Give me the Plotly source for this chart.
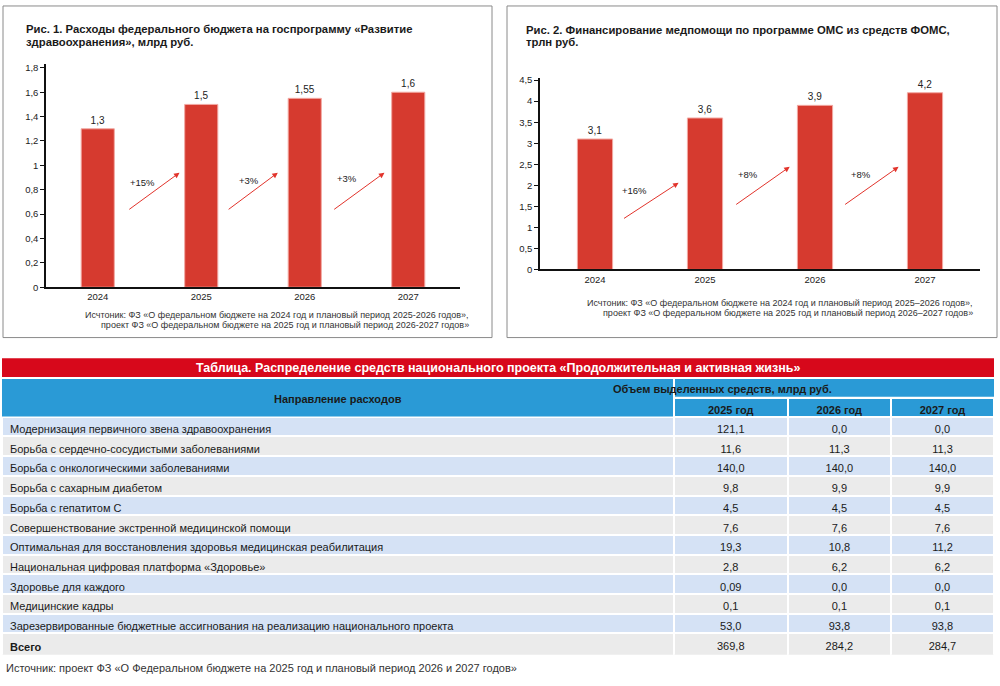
import plotly.graph_objects as go

W, H = 1000, 686
FONT = "Liberation Sans, Arial, sans-serif"
TXT = "#222222"
RED_BAR = "#d63a2f"
ARROW = "#e2332b"

# ---------------- data ----------------
years = ["2024", "2025", "2026", "2027"]
fed_budget = [1.3, 1.5, 1.55, 1.6]          # млрд руб.
oms_funding = [3.1, 3.6, 3.9, 4.2]          # трлн руб.
growth_fed = ["+15%", "+3%", "+3%"]
growth_oms = ["+16%", "+8%", "+8%"]

y1_ticks = [0, 0.2, 0.4, 0.6, 0.8, 1, 1.2, 1.4, 1.6, 1.8]
y1_ticktext = ["0", "0,2", "0,4", "0,6", "0,8", "1", "1,2", "1,4", "1,6", "1,8"]
y2_ticks = [0, 0.5, 1, 1.5, 2, 2.5, 3, 3.5, 4, 4.5]
y2_ticktext = ["0", "0,5", "1", "1,5", "2", "2,5", "3", "3,5", "4", "4,5"]

directions = [
    "Модернизация первичного звена здравоохранения",
    "Борьба с сердечно-сосудистыми заболеваниями",
    "Борьба с онкологическими заболеваниями",
    "Борьба с сахарным диабетом",
    "Борьба с гепатитом С",
    "Совершенствование экстренной медицинской помощи",
    "Оптимальная для восстановления здоровья медицинская реабилитация",
    "Национальная цифровая платформа «Здоровье»",
    "Здоровье для каждого",
    "Медицинские кадры",
    "Зарезервированные бюджетные ассигнования на реализацию национального проекта",
    "Всего",
]
v2025 = [121.1, 11.6, 140.0, 9.8, 4.5, 7.6, 19.3, 2.8, 0.09, 0.1, 53.0, 369.8]
v2026 = [0.0, 11.3, 140.0, 9.9, 4.5, 7.6, 10.8, 6.2, 0.0, 0.1, 93.8, 284.2]
v2027 = [0.0, 11.3, 140.0, 9.9, 4.5, 7.6, 11.2, 6.2, 0.0, 0.1, 93.8, 284.7]
year_headers = ["2025 год", "2026 год", "2027 год"]


def ru(v, auto=False):
    if auto:
        s = ("%.2f" % v) if round(v, 1) != round(v, 2) else ("%.1f" % v)
    else:
        s = ("%g" % v)
    return s.replace(".", ",")


def px(x):
    return x / W


def py(y):
    return 1 - y / H


fig = go.Figure()

# ---------------- chart 1 ----------------
fig.add_trace(go.Bar(
    x=years, y=fed_budget, xaxis="x", yaxis="y",
    marker=dict(color=RED_BAR, line=dict(color="#f2a9a3", width=1)),
    width=0.32, text=[ru(v) for v in fed_budget], textposition="outside",
    textfont=dict(size=10, color=TXT, family=FONT), cliponaxis=False,
    hoverinfo="skip", showlegend=False,
))
# ---------------- chart 2 ----------------
fig.add_trace(go.Bar(
    x=years, y=oms_funding, xaxis="x2", yaxis="y2",
    marker=dict(color=RED_BAR, line=dict(color="#f2a9a3", width=1)),
    width=0.32, text=[ru(v) for v in oms_funding], textposition="outside",
    textfont=dict(size=10, color=TXT, family=FONT), cliponaxis=False,
    hoverinfo="skip", showlegend=False,
))

# ---------------- table ----------------
n = len(directions)
row_fill = ["#d5e2f5" if i % 2 == 0 else "#ebebeb" for i in range(n)]
dir_text = [("<b>%s</b>" % d) if d == "Всего" else d for d in directions]
fig.add_trace(go.Table(
    domain=dict(x=[px(2), px(994)], y=[py(660), py(399)]),
    columnwidth=[671, 114, 103, 103],
    header=dict(
        values=[""] + year_headers,
        fill_color="#2a9ad6", line=dict(color="white", width=2),
        align="center", height=19,
        font=dict(size=11, color="#1a1a1a", family=FONT, weight="bold"),
    ),
    cells=dict(
        values=[dir_text,
                [ru(v, True) for v in v2025],
                [ru(v, True) for v in v2026],
                [ru(v, True) for v in v2027]],
        fill_color=[row_fill] * 4, line=dict(color="white", width=2),
        align=["left", "center", "center", "center"], height=19.7,
        font=dict(size=11, color="#1a1a1a", family=FONT),
    ),
))

axis_common = dict(showgrid=False, zeroline=False, showline=True, linecolor="#111111",
                   tickfont=dict(size=9.5, color=TXT, family=FONT))

layout = dict(
    width=W, height=H, margin=dict(l=0, r=0, t=0, b=0),
    paper_bgcolor="white", plot_bgcolor="white",
    font=dict(family=FONT, color=TXT),
    separators=", ",
    xaxis=dict(domain=[px(46), px(460)], anchor="y", type="category",
               ticks="", linewidth=1.5, **axis_common),
    yaxis=dict(domain=[py(287), py(61)], anchor="x", range=[0, 1.83],
               tickvals=y1_ticks, ticktext=y1_ticktext, ticks="outside", ticklen=4,
               tickcolor="#111111", linewidth=1.5, **axis_common),
    xaxis2=dict(domain=[px(540), px(980)], anchor="y2", type="category",
                ticks="", linewidth=1.5, **axis_common),
    yaxis2=dict(domain=[py(269), py(75)], anchor="x2", range=[0, 4.55],
                tickvals=y2_ticks, ticktext=y2_ticktext, ticks="outside", ticklen=4,
                tickcolor="#111111", linewidth=1.5, **axis_common),
)
fig.update_layout(**layout)

shapes = [
    dict(type="rect", xref="paper", yref="paper", x0=px(3), x1=px(492), y0=py(338), y1=py(2),
         line=dict(color="#8a8a8a", width=1), layer="below"),
    dict(type="rect", xref="paper", yref="paper", x0=px(507), x1=px(997), y0=py(338), y1=py(2),
         line=dict(color="#8a8a8a", width=1), layer="below"),
    # table title bar and merged header cells
    dict(type="rect", xref="paper", yref="paper", x0=px(2), x1=px(994), y0=py(378), y1=py(359),
         fillcolor="#d7081b", line=dict(width=0), layer="above"),
    dict(type="rect", xref="paper", yref="paper", x0=px(2), x1=px(673), y0=py(418), y1=py(380),
         fillcolor="#2a9ad6", line=dict(width=0), layer="above"),
    dict(type="rect", xref="paper", yref="paper", x0=px(675), x1=px(994), y0=py(398), y1=py(380),
         fillcolor="#2a9ad6", line=dict(width=0), layer="above"),
]
fig.update_layout(shapes=shapes)

ann = []


def title(x, y, text, size=11.3):
    ann.append(dict(xref="paper", yref="paper", x=px(x), y=py(y), xanchor="left", yanchor="middle",
                    text="<b>%s</b>" % text, showarrow=False,
                    font=dict(size=size, color="#1a1a1a", family=FONT)))


title(24, 25, "Рис. 1. Расходы федерального бюджета на госпрограмму «Развитие")
title(24, 38, "здравоохранения», млрд руб.")
title(524, 26, "Рис. 2. Финансирование медпомощи по программе ОМС из средств ФОМС,")
title(524, 39, "трлн руб.")


def note(x, y, text, anchor="right", size=9):
    ann.append(dict(xref="paper", yref="paper", x=px(x), y=py(y), xanchor=anchor, yanchor="middle",
                    text=text, showarrow=False, font=dict(size=size, color="#333333", family=FONT)))


note(471, 315, "Исчтоник: ФЗ «О федеральном бюджете на 2024 год и плановый период 2025-2026 годов»,")
note(471, 325, "проект ФЗ «О федеральном бюджете на 2025 год и плановый период 2026-2027 годов»")
note(975, 303, "Исчтоник: ФЗ «О федеральном бюджете на 2024 год и плановый период 2025–2026 годов»,")
note(975, 313, "проект ФЗ «О федеральном бюджете на 2025 год и плановый период 2026–2027 годов»")
note(4, 673, "Источник: проект ФЗ «О Федеральном бюджете на 2025 год и плановый период 2026 и 2027 годов»",
     anchor="left", size=11)

# growth arrows (positions relative to category index)
arrows1 = [(0.29, 0.63, 0.79, 0.94), (1.25, 0.63, 1.74, 0.94), (2.27, 0.63, 2.77, 0.94)]
labels1 = [(0.43, 0.86), (1.46, 0.875), (2.41, 0.89)]
arrows2 = [(0.25, 1.19, 0.76, 2.06), (1.27, 1.52, 1.77, 2.44), (2.26, 1.52, 2.76, 2.44)]
labels2 = [(0.36, 1.87), (1.39, 2.25), (2.42, 2.25)]

for (xr, yr, arr, labs, growth) in [("x", "y", arrows1, labels1, growth_fed),
                                      ("x2", "y2", arrows2, labels2, growth_oms)]:
    for (x0, y0, x1, y1), (lx, ly), g in zip(arr, labs, growth):
        ann.append(dict(xref=xr, yref=yr, axref=xr, ayref=yr, x=x1, y=y1, ax=x0, ay=y0,
                        showarrow=True, arrowhead=2, arrowsize=1.1, arrowwidth=1,
                        arrowcolor=ARROW, text=""))
        ann.append(dict(xref=xr, yref=yr, x=lx, y=ly, text=g, showarrow=False,
                        font=dict(size=9.5, color=TXT, family=FONT)))

# table header texts
ann.append(dict(xref="paper", yref="paper", x=px(498), y=py(369),
                text="<b>Таблица. Распределение средств национального проекта «Продолжительная и активная жизнь»</b>",
                showarrow=False, font=dict(size=12.5, color="white", family=FONT)))
ann.append(dict(xref="paper", yref="paper", x=px(338), y=py(400), text="<b>Направление расходов</b>",
                showarrow=False, font=dict(size=11, color="#1a1a1a", family=FONT)))
ann.append(dict(xref="paper", yref="paper", x=px(834), y=py(390),
                text="<b>Объем выделенных средств, млрд руб.</b>",
                showarrow=False, font=dict(size=11, color="#1a1a1a", family=FONT)))

fig.update_layout(annotations=ann)
fig.write_html("out.html", config={"displayModeBar": False},
               post_script="document.body.style.margin='0';document.body.style.overflow='hidden';")
